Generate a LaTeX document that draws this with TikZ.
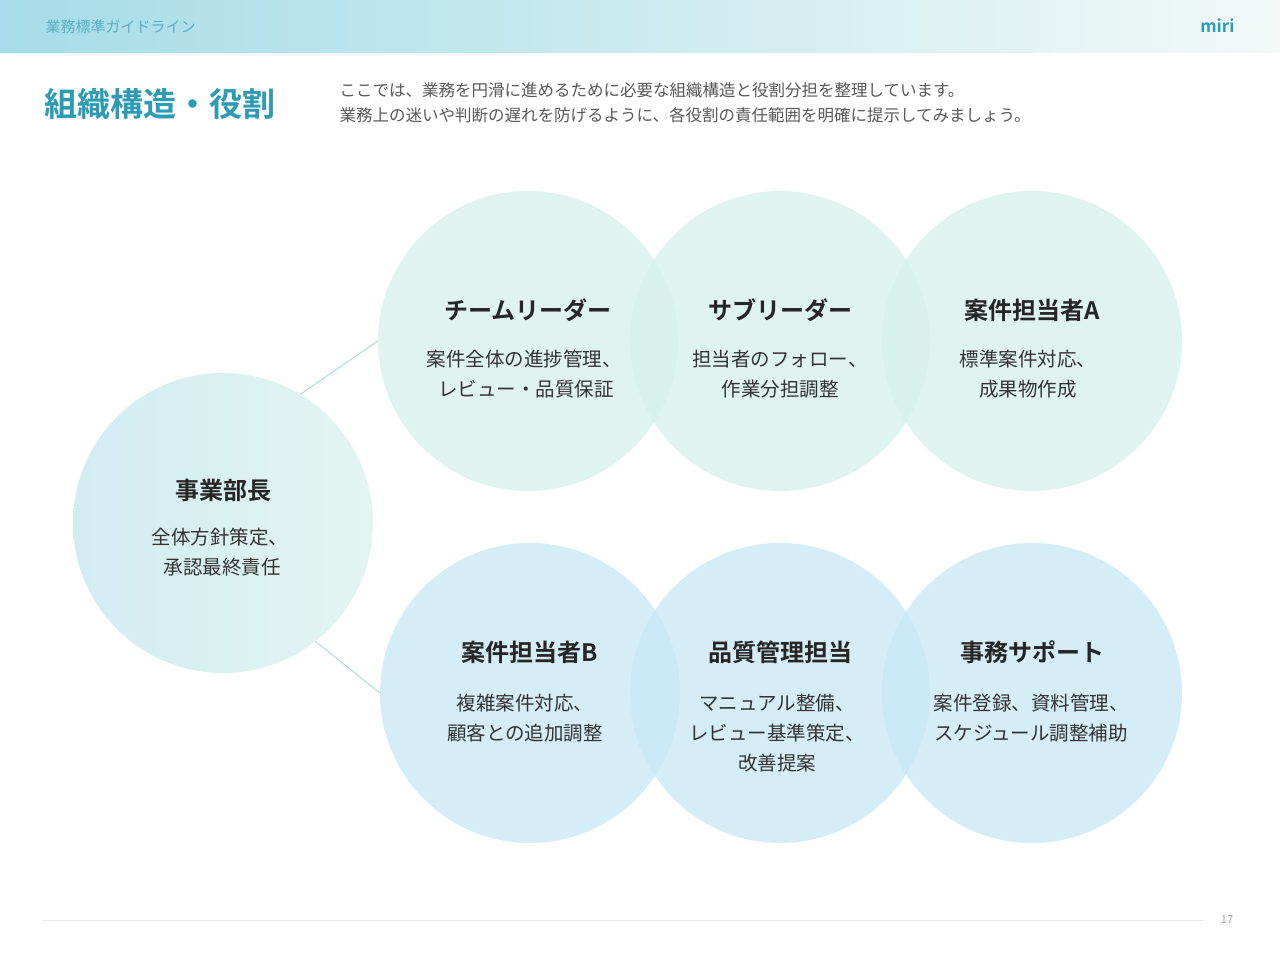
\documentclass[tikz,border=0pt]{standalone}
\usepackage{fontspec}
\setmainfont{Noto Sans CJK JP}
\newfontfamily\jpb{Noto Sans CJK JP Bold}
\usetikzlibrary{positioning}
\definecolor{hdrA}{HTML}{A6DCE9}
\definecolor{hdrB}{HTML}{F2F9F7}
\definecolor{ttl}{HTML}{2E9BB5}
\definecolor{mint}{HTML}{D6F1EA}
\definecolor{sky}{HTML}{C8E8F5}
\definecolor{lead}{HTML}{D2ECF2}
\definecolor{conn}{HTML}{A8DCE3}
\tikzset{
  x=1pt,y=-1pt,
  topc/.style={circle,fill=mint,fill opacity=0.75,minimum size=300pt,inner sep=0pt},
  botc/.style={circle,fill=sky,fill opacity=0.75,minimum size=300pt,inner sep=0pt},
  ttlt/.style={font=\jpb\fontsize{24}{27}\selectfont,text=black!85},
  dsc/.style={font=\fontsize{19.5}{30}\selectfont,text=black!80,align=center},
}
\begin{document}
\begin{tikzpicture}
\useasboundingbox (0,0) rectangle (1280,960);
\fill[white] (0,0) rectangle (1280,960);
\shade[left color=hdrA,right color=hdrB] (0,0) rectangle (1280,53);
\node[anchor=west,text=ttl!80,font=\fontsize{15}{17}\selectfont] (hd) at (42,27) {業務標準ガイドライン};
\node[anchor=east,text=ttl,font=\jpb\fontsize{17}{18}\selectfont] (logo) at (1238,26) {miri};
\node[anchor=west,text=ttl,font=\jpb\fontsize{33}{36}\selectfont] (title) at (41,104) {組織構造・役割};
\node[anchor=north west,text=black!65,font=\fontsize{16.5}{25}\selectfont,align=left] (intro) at (336,79) {ここでは、業務を円滑に進めるために必要な組織構造と役割分担を整理しています。\\業務上の迷いや判断の遅れを防げるように、各役割の責任範囲を明確に提示してみましょう。};

\node[circle,minimum size=300pt,inner sep=0pt,left color=lead,right color=mint!70] (boss) at (223,523) {};
\node[topc] (t1) at (528,341) {};
\node[topc] (t2) at (780,341) {};
\node[topc] (t3) at (1032,341) {};
\node[botc] (b1) at (530,693) {};
\node[botc] (b2) at (780,693) {};
\node[botc] (b3) at (1032,693) {};
\draw[conn,line width=1pt] (boss.59) -- (t1.180);
\draw[conn,line width=1pt] (boss.-52) -- (b1.180);

\node[ttlt] at (223,490) {事業部長};
\node[dsc] at (220,552) {全体方針策定、\\\ 承認最終責任};
\node[ttlt] at (528,310) {チームリーダー};
\node[dsc] at (524,374) {案件全体の進捗管理、\\\ レビュー・品質保証};
\node[ttlt] at (780,310) {サブリーダー};
\node[dsc] at (780,374) {担当者のフォロー、\\作業分担調整};
\node[ttlt] at (1032,310) {案件担当者A};
\node[dsc] at (1028,374) {標準案件対応、\\成果物作成};
\node[ttlt] at (530,652) {案件担当者B};
\node[dsc] at (525,718) {複雑案件対応、\\顧客との追加調整};
\node[ttlt] at (780,652) {品質管理担当};
\node[dsc] at (777,733) {マニュアル整備、\\レビュー基準策定、\\改善提案};
\node[ttlt] at (1032,652) {事務サポート};
\node[dsc] at (1031,718) {案件登録、資料管理、\\スケジュール調整補助};

\coordinate (fl) at (42,920);
\coordinate (fr) at (1203,920);
\draw[black!8,line width=0.8pt] (fl) -- (fr);
\node[text=black!35,font=\fontsize{11}{12}\selectfont] (pg) at (1227,920) {17};
\end{tikzpicture}
\end{document}
